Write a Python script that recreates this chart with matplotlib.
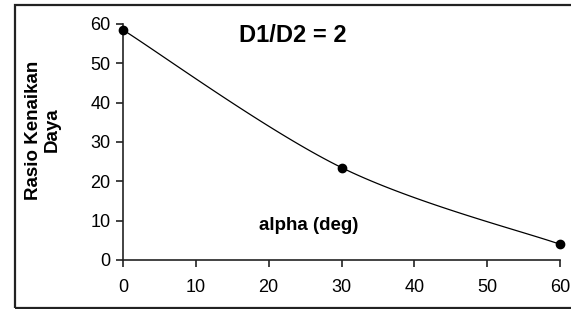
import numpy as np
import matplotlib
matplotlib.use("Agg")
import matplotlib.pyplot as plt
from matplotlib.patches import Rectangle

alpha_deg = [0, 30, 60]
rasio = [58.5, 23.5, 4.0]
x_ticks = [0, 10, 20, 30, 40, 50, 60]
y_ticks = [0, 10, 20, 30, 40, 50, 60]

plt.rcParams['font.family'] = ['Liberation Sans', 'DejaVu Sans']

W, H = 571, 309
fig = plt.figure(figsize=(W / 100, H / 100), dpi=100)
ax = fig.add_axes([123 / W, 1 - 260 / H, (560 - 123) / W, (260 - 24) / H])

# Excel-like smoothed line (Catmull-Rom through the data points)
def smooth(xs, ys, n=40):
    p = np.column_stack([xs, ys]).astype(float)
    p = np.vstack([p[0], p, p[-1]])
    out = []
    for i in range(1, len(p) - 2):
        p0, p1, p2, p3 = p[i - 1], p[i], p[i + 1], p[i + 2]
        t = np.linspace(0, 1, n)[:, None]
        seg = 0.5 * ((2 * p1) + (-p0 + p2) * t + (2 * p0 - 5 * p1 + 4 * p2 - p3) * t ** 2
                     + (-p0 + 3 * p1 - 3 * p2 + p3) * t ** 3)
        out.append(seg)
    c = np.vstack(out)
    return c[:, 0], c[:, 1]

sx, sy = smooth(alpha_deg, rasio)
ax.plot(sx, sy, color='black', lw=0.9, clip_on=False)
ax.plot(alpha_deg, rasio, 'o', color='black', ms=6, clip_on=False, zorder=5)

ax.set_xlim(0, 60)
ax.set_ylim(0, 60)
ax.set_xticks(x_ticks)
ax.set_yticks(y_ticks)
for s in ['top', 'right']:
    ax.spines[s].set_visible(False)
for s in ['left', 'bottom']:
    ax.spines[s].set_linewidth(1.2)
    ax.spines[s].set_color('#222222')
ax.tick_params(axis='both', direction='out', length=5, width=1.2, color='#222222',
               labelsize=13)
ax.tick_params(axis='y', pad=4)
ax.tick_params(axis='x', pad=9)

fig.text(293 / W, 1 - 36 / H, 'D1/D2 = 2', ha='center', va='center',
         fontsize=17, fontweight='bold')
fig.text(309 / W, 1 - 225 / H, 'alpha (deg)', ha='center', va='center',
         fontsize=13.5, fontweight='bold')
fig.text(43 / W, 1 - 130 / H, 'Rasio Kenaikan\nDaya', ha='center', va='center',
         rotation=90, multialignment='center', fontsize=13.5, fontweight='bold',
         linespacing=1.1)

fig.patches.append(Rectangle((15 / W, 1 - 308 / H), 1.2, (308 - 5) / H,
                             transform=fig.transFigure, fill=False,
                             edgecolor='#222222', lw=1.6, clip_on=False))

fig.savefig('out.png', dpi=100)
